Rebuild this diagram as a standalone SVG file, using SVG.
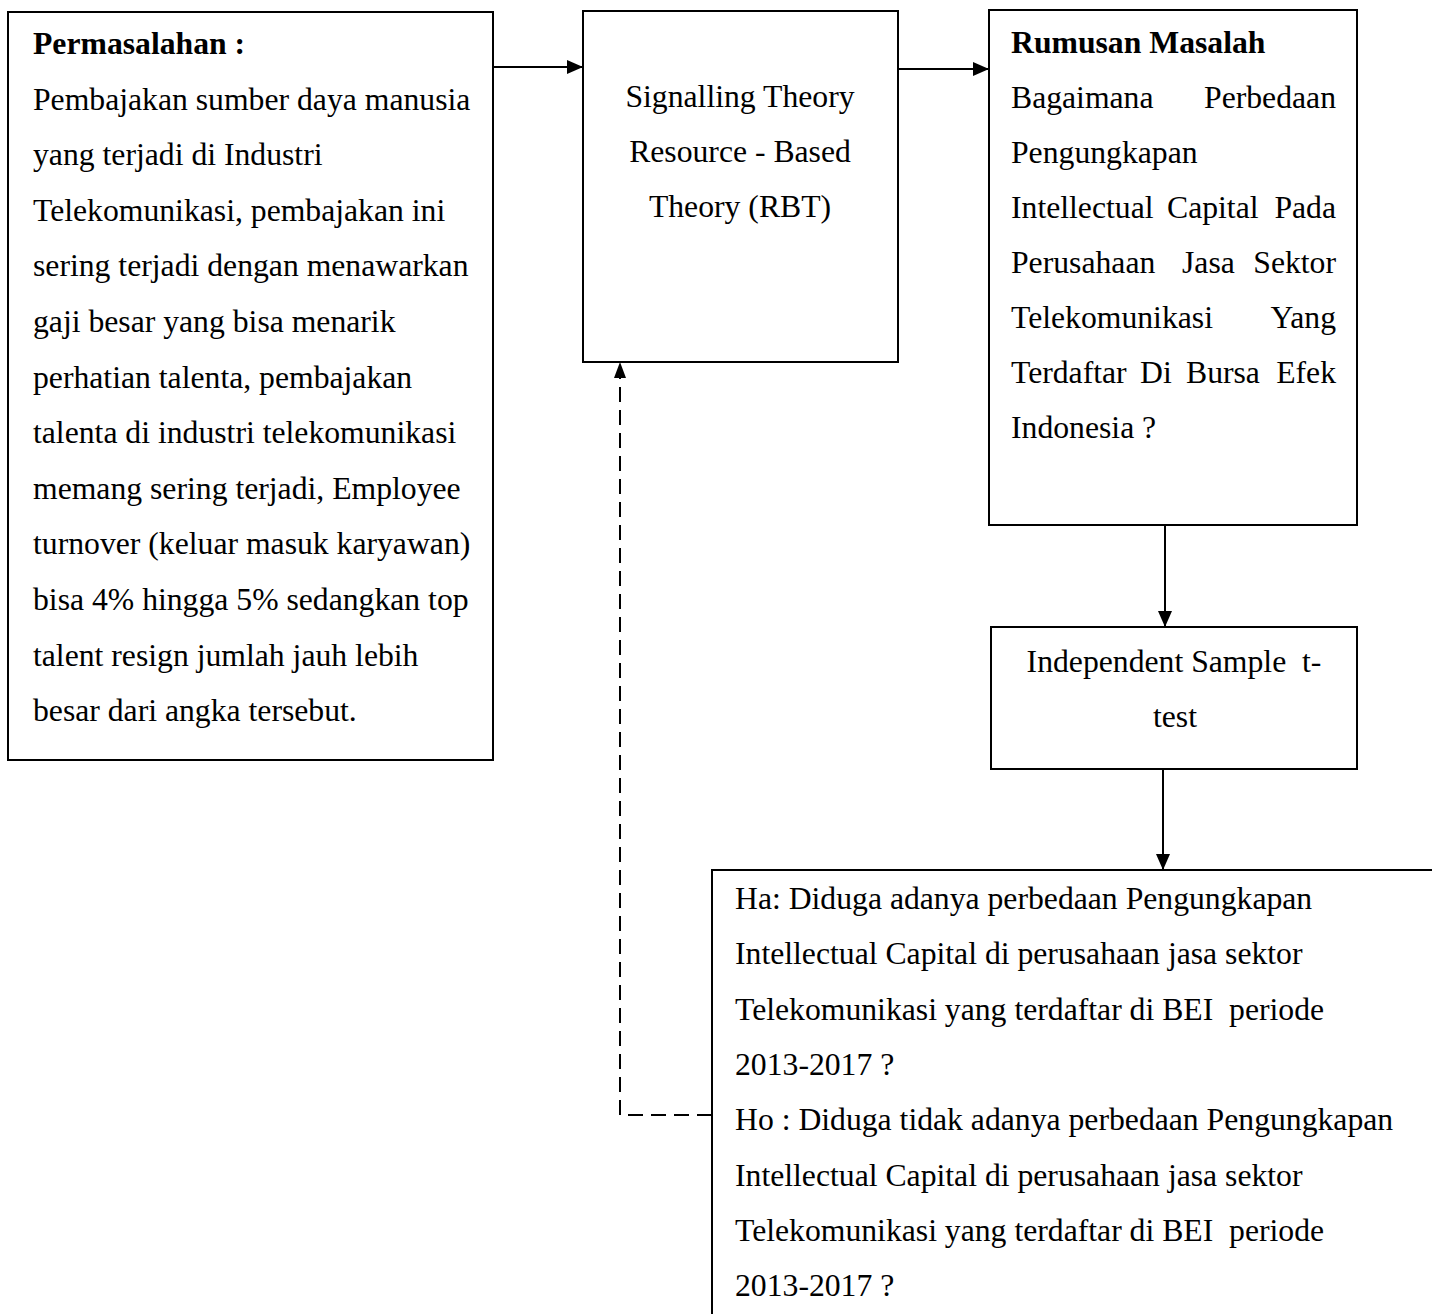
<svg xmlns="http://www.w3.org/2000/svg" width="1432" height="1314" viewBox="0 0 1432 1314">
<defs>
<marker id="ah" markerWidth="16" markerHeight="14" refX="16" refY="7" orient="auto" markerUnits="userSpaceOnUse">
<path d="M0,0 L16,7 L0,14 Z" fill="#000"/>
</marker>
<style>
.box{fill:#fff;stroke:#000;stroke-width:2}
.t{font-family:"Liberation Serif","Times New Roman",serif;font-size:31.7px;fill:#000}
.b{font-weight:bold}
.c{text-anchor:middle}
.e{text-anchor:end}
.ln{stroke:#000;stroke-width:2;fill:none}
.dash{stroke:#000;stroke-width:2;fill:none;stroke-dasharray:15 8}
</style>
</defs>
<rect width="1432" height="1314" fill="#fff"/>
<g id="connectors">
<line class="ln" x1="493" y1="67" x2="583" y2="67" marker-end="url(#ah)"/>
<line class="ln" x1="898" y1="69" x2="989" y2="69" marker-end="url(#ah)"/>
<line class="ln" x1="1165" y1="525" x2="1165" y2="627" marker-end="url(#ah)"/>
<line class="ln" x1="1163" y1="769" x2="1163" y2="870" marker-end="url(#ah)"/>
<path class="dash" d="M712,1115 H620 V376"/>
<path d="M620,362 L626,378 L614,378 Z" fill="#000"/>
</g>
<g id="permasalahan">
<rect class="box" x="8" y="12" width="485" height="748"/>
<text class="t b" x="33" y="54">Permasalahan :</text>
<text class="t" x="33" y="110">Pembajakan sumber daya manusia</text>
<text class="t" x="33" y="165">yang terjadi di Industri</text>
<text class="t" x="33" y="221">Telekomunikasi, pembajakan ini</text>
<text class="t" x="33" y="276">sering terjadi dengan menawarkan</text>
<text class="t" x="33" y="332">gaji besar yang bisa menarik</text>
<text class="t" x="33" y="388">perhatian talenta, pembajakan</text>
<text class="t" x="33" y="443">talenta di industri telekomunikasi</text>
<text class="t" x="33" y="499">memang sering terjadi, Employee</text>
<text class="t" x="33" y="554">turnover (keluar masuk karyawan)</text>
<text class="t" x="33" y="610">bisa 4% hingga 5% sedangkan top</text>
<text class="t" x="33" y="666">talent resign jumlah jauh lebih</text>
<text class="t" x="33" y="721">besar dari angka tersebut.</text>
</g>
<g id="theory">
<rect class="box" x="583" y="11" width="315" height="351"/>
<text class="t c" x="740" y="107">Signalling Theory</text>
<text class="t c" x="740" y="162">Resource - Based</text>
<text class="t c" x="740" y="217">Theory (RBT)</text>
</g>
<g id="rumusan">
<rect class="box" x="989" y="10" width="368" height="515"/>
<text class="t b" x="1011" y="53">Rumusan Masalah</text>
<text class="t" x="1011" y="108">Bagaimana</text>
<text class="t e" x="1336" y="108">Perbedaan</text>
<text class="t" x="1011" y="163">Pengungkapan</text>
<text class="t" x="1011" y="218">Intellectual</text>
<text class="t" x="1167" y="218">Capital</text>
<text class="t e" x="1336" y="218">Pada</text>
<text class="t" x="1011" y="273">Perusahaan</text>
<text class="t" x="1182" y="273">Jasa</text>
<text class="t e" x="1336" y="273">Sektor</text>
<text class="t" x="1011" y="328">Telekomunikasi</text>
<text class="t e" x="1336" y="328">Yang</text>
<text class="t" x="1011" y="383">Terdaftar</text>
<text class="t" x="1140" y="383">Di</text>
<text class="t" x="1186" y="383">Bursa</text>
<text class="t e" x="1336" y="383">Efek</text>
<text class="t" x="1011" y="438">Indonesia ?</text>
</g>
<g id="uji">
<rect class="box" x="991" y="627" width="366" height="142"/>
<text class="t c" x="1174" y="672" xml:space="preserve">Independent Sample  t-</text>
<text class="t c" x="1175" y="727">test</text>
</g>
<g id="hipotesis">
<rect class="box" x="712" y="870" width="740" height="460"/>
<text class="t" x="735" y="909">Ha: Diduga adanya perbedaan Pengungkapan</text>
<text class="t" x="735" y="964">Intellectual Capital di perusahaan jasa sektor</text>
<text class="t" x="735" y="1020" xml:space="preserve">Telekomunikasi yang terdaftar di BEI  periode</text>
<text class="t" x="735" y="1075">2013-2017 ?</text>
<text class="t" x="735" y="1130">Ho : Diduga tidak adanya perbedaan Pengungkapan</text>
<text class="t" x="735" y="1186">Intellectual Capital di perusahaan jasa sektor</text>
<text class="t" x="735" y="1241" xml:space="preserve">Telekomunikasi yang terdaftar di BEI  periode</text>
<text class="t" x="735" y="1296">2013-2017 ?</text>
</g>
</svg>
